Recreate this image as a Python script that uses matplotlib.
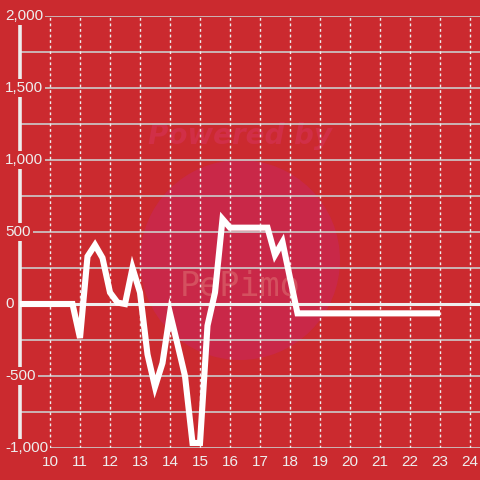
import matplotlib
matplotlib.use("Agg")
import matplotlib.pyplot as plt
from matplotlib.patches import Circle
import matplotlib.transforms as mtransforms

# -------------------------
# Data
# -------------------------
x_vals = [9.0, 10.75, 11.0, 11.25, 11.5, 11.75, 12.0, 12.25, 12.5, 12.75, 13.0,
          13.25, 13.5, 13.75, 14.0, 14.25, 14.5, 14.75, 15.0, 15.25, 15.5,
          15.75, 16.0, 16.25, 16.5, 16.75, 17.0, 17.25, 17.5, 17.75, 18.0,
          18.25, 18.5, 19.0, 20.0, 21.0, 22.0, 23.0]
y_vals = [0, 0, -236, 330, 410, 320, 80, 10, 0, 250, 80,
          -350, -575, -410, -65, -280, -500, -965, -965, -150, 80,
          590, 530, 530, 530, 530, 530, 530, 340, 430, 180,
          -65, -65, -65, -65, -65, -65, -65]

x_ticks = list(range(10, 25))
y_labels = [2000, 1500, 1000, 500, 0, -500, -1000]

BG = "#cb2a2f"
TXT = "#eeeeee"

fig = plt.figure(figsize=(4.8, 4.8), dpi=100, facecolor=BG)
ax = fig.add_axes([20 / 480, 1 - 448 / 480, 460 / 480, 432 / 480])
ax.set_facecolor(BG)
ax.set_xlim(9.0, 24.333)
ax.set_ylim(-1000, 2000)

# watermark (drawn under the grid)
ax.add_patch(Circle((240 / 480, 1 - 260 / 480), 100 / 480,
                    transform=fig.transFigure, facecolor="#c92848",
                    edgecolor="none", zorder=0.2, clip_on=False))
ax.text(240 / 480, 1 - 136 / 480, "Powered by", transform=fig.transFigure,
        color="#d12f47", fontsize=20, fontweight="bold", style="italic",
        ha="center", va="center", zorder=0.3)
ax.text(240 / 480, 1 - 286 / 480, "PePimo", transform=fig.transFigure,
        color="#d4505f", fontsize=24, ha="center", va="center", zorder=0.3,
        family="DejaVu Sans Mono")

# grid
for gy in range(-1000, 2001, 250):
    if gy == 0:
        continue
    ax.axhline(gy, color="#cccccc", lw=1.2, zorder=1)
for gx in x_ticks:
    ax.plot([gx, gx], [-1000, 2000], color="#eeeeee", lw=1,
            ls=(0, (2, 2)), zorder=1)
ax.axhline(0, color=TXT, lw=2.2, zorder=2)

# y axis line
ax.plot([9.0, 9.0], [-1000, 1945], color=TXT, lw=2.6, zorder=3,
        clip_on=False)

# data line
ax.plot(x_vals, y_vals, color="white", lw=4.4, zorder=4,
        solid_joinstyle="miter", solid_capstyle="butt")

for sp in ax.spines.values():
    sp.set_visible(False)
ax.set_xticks([])
ax.set_yticks([])

# y labels with background boxes
trans = mtransforms.blended_transform_factory(fig.transFigure, ax.transData)
for v in y_labels:
    ax.text(5 / 480, v, f"{v:,}", transform=trans, color=TXT, fontsize=11,
            ha="left", va="center", family="Liberation Sans", zorder=5,
            bbox=dict(facecolor=BG, edgecolor="none", pad=1.5),
            clip_on=False)

# x labels
transx = mtransforms.blended_transform_factory(ax.transData, fig.transFigure)
for t in x_ticks:
    ax.text(t, 1 - 462 / 480, str(t), transform=transx, color=TXT,
            fontsize=11, ha="center", va="center",
            family="Liberation Sans", clip_on=False)

fig.savefig("out.png", dpi=100, facecolor=BG)
